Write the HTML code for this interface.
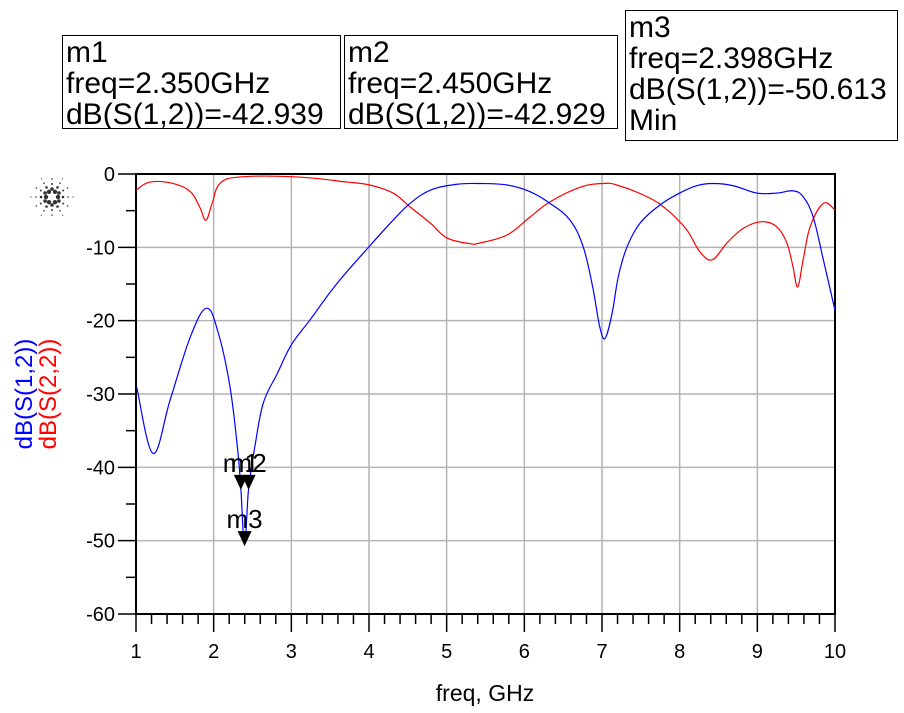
<!DOCTYPE html>
<html><head><meta charset="utf-8"><style>
body{margin:0;background:#fff;width:904px;height:713px;overflow:hidden;font-family:"Liberation Sans",sans-serif}
.box{position:absolute;border:1px solid #000;background:#fff;font-size:30px;line-height:31px;padding:1px 3px;box-sizing:border-box;white-space:nowrap;overflow:hidden}
</style></head><body>
<div class="box" style="left:62px;top:35px;width:279px;height:94px">m1<br>freq=2.350GHz<br>dB(S(1,2))=-42.939</div>
<div class="box" style="left:344px;top:35px;width:274px;height:94px">m2<br>freq=2.450GHz<br>dB(S(1,2))=-42.929</div>
<div class="box" style="left:625px;top:10px;width:273px;height:131px">m3<br>freq=2.398GHz<br>dB(S(1,2))=-50.613<br>Min</div>
<svg id="chart" width="904" height="713" style="position:absolute;left:0;top:0">
<g id="logo" fill="#333"></g>
<g id="grid"></g><g id="axes"></g><g id="series"></g><g id="markers"></g>
<text x="485" y="701" font-size="23" text-anchor="middle">freq, GHz</text>
<g transform="translate(36,394) rotate(-90)">
<text x="0" y="-4" font-size="24" fill="#0000ff" text-anchor="middle">dB(S(1,2))</text>
<text x="0" y="20" font-size="24" fill="#ff0000" text-anchor="middle">dB(S(2,2))</text>
</g>
</svg>
<script>
const xTicks=[1,2,3,4,5,6,7,8,9,10];
const yTicks=[0,-10,-20,-30,-40,-50,-60];
const s12F=[1.01,1.22,1.44,1.70,1.91,2.06,2.21,2.31,2.35,2.398,2.45,2.53,2.64,2.82,3.0,3.24,3.59,4.01,4.31,4.53,4.79,5.13,5.43,5.78,6.07,6.33,6.59,6.76,6.88,6.97,7.04,7.13,7.21,7.32,7.49,7.75,8.0,8.22,8.43,8.69,8.99,9.25,9.46,9.59,9.72,9.85,10];
const s12V=[-29.1,-38.1,-30.8,-22.2,-18.3,-21.7,-29,-37.7,-42.9,-50.6,-42.9,-37.2,-31.2,-27.2,-23.3,-19.9,-14.9,-9.8,-6.3,-4.0,-2.2,-1.4,-1.3,-1.5,-2.4,-4.0,-6.3,-10,-15.4,-20.8,-22.4,-19,-14,-10,-6.7,-4.2,-2.6,-1.6,-1.3,-1.6,-2.6,-2.6,-2.3,-3.1,-5.9,-11.7,-18.6];
const s22F=[1.0,1.18,1.48,1.7,1.82,1.9,1.98,2.08,2.34,3.07,3.72,4.01,4.31,4.53,4.79,5.0,5.3,5.43,5.78,6.07,6.33,6.72,7.01,7.19,7.58,7.84,8.09,8.26,8.42,8.61,8.82,9.06,9.25,9.38,9.46,9.52,9.59,9.68,9.85,10];
const s22V=[-2.2,-1.1,-1.3,-2.4,-4.5,-6.3,-4.0,-1.3,-0.4,-0.4,-1.1,-1.5,-2.6,-4.5,-6.7,-8.7,-9.5,-9.4,-8.3,-5.9,-3.8,-1.8,-1.3,-1.5,-3.1,-4.9,-7.6,-10.6,-11.7,-9.4,-7.4,-6.5,-7.2,-9.4,-12.7,-15.4,-11.7,-7.2,-4.0,-4.9];
const markerNames=["m1","m2","m3"];
const markerF=[2.35,2.45,2.398];
const markerV=[-42.939,-42.929,-50.613];
const X0=136,X1=835,Y0=174,Y1=614;
const xs=f=>X0+(f-1)/9*(X1-X0);
const ys=v=>Y0+(0-v)/60*(Y1-Y0);
const NS="http://www.w3.org/2000/svg";
function mk(p,tag,at){const e=document.createElementNS(NS,tag);for(const k in at)e.setAttribute(k,at[k]);p.appendChild(e);return e;}
const grid=document.getElementById('grid'),axes=document.getElementById('axes');
xTicks.forEach(t=>{const x=xs(t);
 if(t>1&&t<10){const l=mk(grid,'line',{x1:x,x2:x,y1:Y0,y2:Y1,stroke:'#b4b4b4','stroke-width':1.5});
 
 }
 mk(axes,'line',{x1:x,x2:x,y1:Y1,y2:Y1+18,stroke:'#000','stroke-width':1.5});
 const tx=mk(axes,'text',{x:x,y:658,'font-size':20,'text-anchor':'middle'});tx.textContent=t;
 
 
 if(t<10)for(let k=1;k<5;k++){const xm=xs(t+k*0.2);mk(axes,'line',{x1:xm,x2:xm,y1:Y1,y2:Y1+10,stroke:'#000','stroke-width':1.5});}
});
yTicks.forEach(t=>{const y=ys(t);
 if(t<0&&t>-60){const l=mk(grid,'line',{x1:X0,x2:X1,y1:y,y2:y,stroke:'#b4b4b4','stroke-width':1.5});
 
 }
 mk(axes,'line',{x1:X0-18,x2:X0,y1:y,y2:y,stroke:'#000','stroke-width':1.5});
 const tx=mk(axes,'text',{x:115,y:y+7,'font-size':20,'text-anchor':'end'});tx.textContent=t;
 
 
 if(t>-60){const ym=ys(t-5);mk(axes,'line',{x1:X0-10,x2:X0,y1:ym,y2:ym,stroke:'#000','stroke-width':1.5});}
});
mk(axes,'rect',{x:X0,y:Y0,width:X1-X0,height:Y1-Y0,fill:'none',stroke:'#000','stroke-width':2});
const ser=document.getElementById('series');
function smooth(P){let d='M'+P[0][0]+','+P[0][1];
 for(let i=0;i<P.length-1;i++){const p0=P[Math.max(i-1,0)],p1=P[i],p2=P[i+1],p3=P[Math.min(i+2,P.length-1)];
  const t=0.18;
  d+=` C${p1[0]+(p2[0]-p0[0])*t},${p1[1]+(p2[1]-p0[1])*t} ${p2[0]-(p3[0]-p1[0])*t},${p2[1]-(p3[1]-p1[1])*t} ${p2[0]},${p2[1]}`;}
 return d;}
function line(F,V,c,n){const P=F.map((f,i)=>[xs(f),ys(V[i])]);
 const p=mk(ser,'path',{d:smooth(P),fill:'none',stroke:c,'stroke-width':1.2});
 
 }
line(s22F,s22V,'#ff0000','s22-trace');
line(s12F,s12V,'#0000ff','s12-trace');
const mg=document.getElementById('markers');
markerF.forEach((f,i)=>{const x=xs(f),y=ys(markerV[i]);
 const g=mk(mg,'g',{});
 
 
 mk(g,'polygon',{points:`${x-7},${y-14} ${x+7},${y-14} ${x},${y+1}`,fill:'#000'});
 const t=mk(g,'text',{x:x,y:y-17,'font-size':26,'text-anchor':'middle'});t.textContent=markerNames[i];
});
const lg=document.getElementById('logo');const cx=52,cy=197;
for(let a=0;a<12;a++){const ang=a*Math.PI/6;
 const rads=a%2?[8,13,18]:[6,11,16,21];const szs=a%2?[1.8,1.0,0.8]:[2.2,1.3,0.8,0.6];
 rads.forEach((rad,j)=>mk(lg,'circle',{cx:cx+rad*Math.cos(ang),cy:cy+rad*Math.sin(ang),r:szs[j]}));}
</script>
</body></html>
